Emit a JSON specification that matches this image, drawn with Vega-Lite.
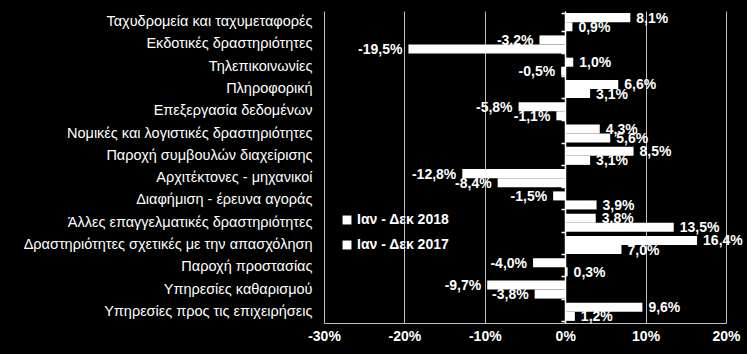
{
  "$schema": "https://vega.github.io/schema/vega-lite/v6.json",
  "width": 402,
  "height": 312,
  "autosize": "none",
  "padding": {"left": 324, "top": 11, "right": 21, "bottom": 31},
  "background": "black",
  "config": {
    "view": {"stroke": null},
    "font": "Liberation Sans",
    "locale": {"number": {"decimal": ",", "thousands": ".", "grouping": [3], "currency": ["", " €"], "minus": "-"}}
  },
  "data": {
    "values": [
      {"cat": "Ταχυδρομεία και ταχυμεταφορές", "series": "Ιαν - Δεκ 2018", "value": 0.081},
      {"cat": "Ταχυδρομεία και ταχυμεταφορές", "series": "Ιαν - Δεκ 2017", "value": 0.009},
      {"cat": "Εκδοτικές δραστηριότητες", "series": "Ιαν - Δεκ 2018", "value": -0.032},
      {"cat": "Εκδοτικές δραστηριότητες", "series": "Ιαν - Δεκ 2017", "value": -0.195},
      {"cat": "Τηλεπικοινωνίες", "series": "Ιαν - Δεκ 2018", "value": 0.010},
      {"cat": "Τηλεπικοινωνίες", "series": "Ιαν - Δεκ 2017", "value": -0.005},
      {"cat": "Πληροφορική ", "series": "Ιαν - Δεκ 2018", "value": 0.066},
      {"cat": "Πληροφορική ", "series": "Ιαν - Δεκ 2017", "value": 0.031},
      {"cat": "Επεξεργασία δεδομένων", "series": "Ιαν - Δεκ 2018", "value": -0.058},
      {"cat": "Επεξεργασία δεδομένων", "series": "Ιαν - Δεκ 2017", "value": -0.011},
      {"cat": "Νομικές και λογιστικές δραστηριότητες ", "series": "Ιαν - Δεκ 2018", "value": 0.043},
      {"cat": "Νομικές και λογιστικές δραστηριότητες ", "series": "Ιαν - Δεκ 2017", "value": 0.056},
      {"cat": "Παροχή συμβουλών διαχείρισης", "series": "Ιαν - Δεκ 2018", "value": 0.085},
      {"cat": "Παροχή συμβουλών διαχείρισης", "series": "Ιαν - Δεκ 2017", "value": 0.031},
      {"cat": "Αρχιτέκτονες - μηχανικοί", "series": "Ιαν - Δεκ 2018", "value": -0.128},
      {"cat": "Αρχιτέκτονες - μηχανικοί", "series": "Ιαν - Δεκ 2017", "value": -0.084},
      {"cat": "Διαφήμιση - έρευνα αγοράς", "series": "Ιαν - Δεκ 2018", "value": -0.015},
      {"cat": "Διαφήμιση - έρευνα αγοράς", "series": "Ιαν - Δεκ 2017", "value": 0.039},
      {"cat": "Άλλες επαγγελματικές δραστηριότητες", "series": "Ιαν - Δεκ 2018", "value": 0.038},
      {"cat": "Άλλες επαγγελματικές δραστηριότητες", "series": "Ιαν - Δεκ 2017", "value": 0.135},
      {"cat": "Δραστηριότητες σχετικές με την απασχόληση", "series": "Ιαν - Δεκ 2018", "value": 0.164},
      {"cat": "Δραστηριότητες σχετικές με την απασχόληση", "series": "Ιαν - Δεκ 2017", "value": 0.070},
      {"cat": "Παροχή προστασίας", "series": "Ιαν - Δεκ 2018", "value": -0.040},
      {"cat": "Παροχή προστασίας", "series": "Ιαν - Δεκ 2017", "value": 0.003},
      {"cat": "Υπηρεσίες καθαρισμού ", "series": "Ιαν - Δεκ 2018", "value": -0.097},
      {"cat": "Υπηρεσίες καθαρισμού ", "series": "Ιαν - Δεκ 2017", "value": -0.038},
      {"cat": "Υπηρεσίες προς τις επιχειρήσεις ", "series": "Ιαν - Δεκ 2018", "value": 0.096},
      {"cat": "Υπηρεσίες προς τις επιχειρήσεις ", "series": "Ιαν - Δεκ 2017", "value": 0.012}
    ]
  },
  "encoding": {
    "x": {
      "field": "value", "type": "quantitative",
      "scale": {"domain": [-0.3, 0.2], "nice": false, "zero": false},
      "axis": {"title": null, "values": [-0.3, -0.2, -0.1, 0, 0.1, 0.2], "format": ".0%", "grid": true, "gridColor": "#bfbfbf", "gridWidth": 1, "domainColor": "#bfbfbf", "ticks": false, "labelColor": "white", "labelFontSize": 14, "labelFontWeight": "bold", "labelPadding": 6, "labelFlush": false}
    },
    "yOffset": {"field": "series", "type": "nominal", "sort": ["Ιαν - Δεκ 2018", "Ιαν - Δεκ 2017"], "scale": {"paddingInner": 0, "paddingOuter": 0}}
  },
  "resolve": {"axis": {"y": "independent"}},
  "layer": [
    {
      "mark": {"type": "bar"},
      "encoding": {
        "y": {
          "field": "cat", "type": "nominal", "sort": null,
          "scale": {"paddingInner": 0.19, "paddingOuter": 0.095},
          "axis": {"orient": "left", "title": null, "domain": false, "ticks": false, "grid": false, "labelPadding": 12, "labelColor": "white", "labelFontSize": 14.5, "labelFont": "Liberation Sans", "labelLimit": 400}
        },
        "color": {
          "field": "series", "type": "nominal",
          "scale": {"domain": ["Ιαν - Δεκ 2018", "Ιαν - Δεκ 2017"], "range": ["white", "white"]},
          "legend": {"orient": "none", "legendX": 16, "legendY": 202, "title": null, "symbolType": "square", "symbolSize": 80, "symbolStrokeWidth": 0, "labelColor": "white", "labelFontSize": 14, "labelFontWeight": "bold", "labelFont": "Liberation Sans", "rowPadding": 11, "labelOffset": 3}
        }
      }
    },
    {
      "transform": [{"filter": "datum.value >= 0"}],
      "mark": {"type": "text", "align": "left", "baseline": "middle", "dx": 6, "dy": 1, "color": "white", "fontSize": 14, "fontWeight": "bold", "font": "Liberation Sans"},
      "encoding": {
        "y": {"field": "cat", "type": "nominal", "sort": null, "axis": null},
        "text": {"field": "value", "type": "quantitative", "format": ".1%"}
      }
    },
    {
      "transform": [{"filter": "datum.value < 0"}],
      "mark": {"type": "text", "align": "right", "baseline": "middle", "dx": -6, "dy": 1, "color": "white", "fontSize": 14, "fontWeight": "bold", "font": "Liberation Sans"},
      "encoding": {
        "y": {"field": "cat", "type": "nominal", "sort": null, "axis": null},
        "text": {"field": "value", "type": "quantitative", "format": ".1%"}
      }
    },
    {
      "mark": {"type": "point", "opacity": 0},
      "encoding": {
        "y": {
          "field": "cat", "type": "nominal", "sort": null,
          "axis": {"orient": "left", "offset": -241, "title": null, "labels": false, "grid": false, "domain": true, "domainColor": "white", "domainWidth": 1.5, "ticks": true, "tickColor": "white", "tickWidth": 1.5, "tickSize": 4, "tickBand": "extent"}
        }
      }
    }
  ]
}
